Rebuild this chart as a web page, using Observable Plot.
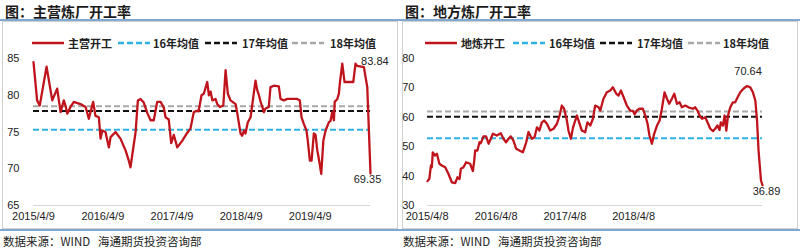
<!DOCTYPE html>
<html><head><meta charset="utf-8">
<script src="https://cdn.jsdelivr.net/npm/d3@7"></script>
<script src="https://cdn.jsdelivr.net/npm/@observablehq/plot@0.6"></script>
<style>
body{margin:0;background:#fff;font-family:"Noto Sans CJK SC","Liberation Sans",sans-serif;}
#root{position:relative;width:800px;height:248px;overflow:hidden;background:#fff;}
.abs{position:absolute;}
.title{font-size:14px;font-weight:bold;color:#1a1a1a;white-space:nowrap;line-height:16px;}
.rule{height:2px;background:#7fa9d4;}
.box{border:1px solid #d0d0d0;box-sizing:border-box;}
.leg{font-size:11px;font-weight:600;color:#222;white-space:nowrap;line-height:12px;}
.src{font-size:11.5px;color:#222;white-space:nowrap;line-height:14px;}
</style></head><body><div id="root"></div>
<script>
// ---------- data ----------
const leftTitle = "图：主营炼厂开工率";
const rightTitle = "图：地方炼厂开工率";
const sourceText = "数据来源：WIND\u00a0\u00a0\u00a0海通期货投资咨询部";
const avgNames = ["16年均值", "17年均值", "18年均值"];
const leftSeriesName = "主营开工";
const rightSeriesName = "地炼开工";

const leftDates = ["2015-04-09","2015-04-28","2015-05-12","2015-06-17","2015-07-17","2015-08-12","2015-08-21","2015-08-30","2015-09-16","2015-09-25",
"2015-10-04","2015-10-21","2015-11-08","2015-12-13","2016-01-09","2016-01-26","2016-02-04","2016-02-18","2016-03-01","2016-03-19",
"2016-03-28","2016-04-06","2016-04-23","2016-05-11","2016-05-20","2016-06-15","2016-07-11","2016-08-07","2016-08-24","2016-09-02",
"2016-09-29","2016-10-11","2016-10-25","2016-11-11","2016-12-01","2016-12-17","2017-01-03","2017-01-21","2017-02-08","2017-02-25",
"2017-03-06","2017-03-23","2017-04-05","2017-04-19","2017-05-07","2017-06-02","2017-06-29","2017-07-16","2017-08-02","2017-08-20",
"2017-08-27","2017-09-12","2017-09-24","2017-10-12","2017-10-21","2017-10-30","2017-11-08","2017-11-25","2017-12-04","2017-12-18",
"2018-01-05","2018-01-17","2018-01-29","2018-02-12","2018-03-11","2018-03-20","2018-04-06","2018-04-15","2018-04-24","2018-05-02",
"2018-05-14","2018-05-29","2018-06-12","2018-06-24","2018-07-02","2018-07-12","2018-07-21","2018-07-30","2018-08-07","2018-08-16",
"2018-09-02","2018-09-11","2018-09-29","2018-10-25","2018-11-03","2018-11-21","2018-12-09","2019-01-30","2019-02-13","2019-02-22",
"2019-03-06","2019-03-20","2019-03-27","2019-04-07","2019-04-16","2019-04-28","2019-05-07","2019-05-16","2019-05-24","2019-06-06",
"2019-06-17","2019-06-29","2019-07-16","2019-07-25","2019-08-03","2019-08-12","2019-08-16","2019-08-30","2019-09-07","2019-09-12",
"2019-09-25","2019-10-07","2019-11-22","2019-12-04","2019-12-13","2020-01-17","2020-02-04","2020-02-21"];
const leftValues = [84.5,79.3,78.6,83.9,79.3,80.9,79.3,77.7,79.3,78.6,
77.5,78.4,79.1,78.8,78.4,76.8,77.7,79.1,77.2,77.0,
74.1,75.2,75.0,72.9,74.3,75.0,74.1,72.5,71.1,70.2,
75.0,79.3,79.5,79.0,77.5,76.6,76.6,79.1,79.1,78.3,
77.0,76.7,73.5,74.6,72.9,73.8,74.9,75.5,77.7,77.9,
77.8,80.0,80.2,81.8,80.0,80.5,79.3,79.5,78.8,78.4,
78.6,83.4,80.2,79.3,78.8,77.5,74.8,74.5,75.2,74.8,
76.3,77.0,79.7,82.0,80.8,80.0,79.1,78.4,77.7,78.2,
78.4,81.1,81.3,81.2,79.5,79.3,79.5,79.5,79.3,77.0,
76.1,75.2,73.8,71.1,71.1,74.8,74.6,72.5,71.4,69.3,
73.8,75.2,76.3,76.5,77.7,76.6,79.1,79.5,80.2,81.6,
84.3,81.8,81.8,84.3,84.0,83.84,81.1,69.35];
const leftAverages = [75.3, 77.85, 78.5];
const leftYTicks = [65, 70, 75, 80, 85];
const leftXTicks = ["2015/4/9","2016/4/9","2017/4/9","2018/4/9","2019/4/9"];
const leftNotes = [83.84, 69.35];

const rightDates = ["2015-04-10","2015-04-20","2015-04-28","2015-05-03","2015-05-08","2015-05-20","2015-05-30","2015-06-12","2015-06-25","2015-07-13",
"2015-07-30","2015-08-17","2015-09-04","2015-09-16","2015-09-27","2015-10-04","2015-10-18","2015-11-01","2015-11-22","2015-12-07",
"2015-12-14","2015-12-19","2015-12-31","2016-01-11","2016-01-18","2016-02-01","2016-02-15","2016-02-28","2016-03-11","2016-03-22",
"2016-04-12","2016-05-03","2016-05-17","2016-05-31","2016-06-13","2016-06-25","2016-07-09","2016-07-24","2016-08-10","2016-08-28",
"2016-09-15","2016-09-27","2016-10-15","2016-10-29","2016-11-11","2016-11-24","2016-12-07","2016-12-19","2017-01-03","2017-01-20",
"2017-02-07","2017-02-25","2017-03-11","2017-03-23","2017-04-04","2017-04-19","2017-04-27","2017-05-10","2017-05-21","2017-06-02",
"2017-06-11","2017-06-23","2017-07-07","2017-07-25","2017-08-06","2017-08-21","2017-09-04","2017-09-16","2017-10-04","2017-10-13",
"2017-10-30","2017-11-17","2017-12-05","2017-12-19","2018-01-06","2018-01-18","2018-01-31","2018-02-17","2018-03-03","2018-03-21",
"2018-04-04","2018-04-13","2018-04-25","2018-05-09","2018-05-27","2018-06-09","2018-06-21","2018-07-01","2018-07-14","2018-07-26",
"2018-08-10","2018-08-24","2018-09-05","2018-09-19","2018-10-02","2018-10-14","2018-10-28","2018-11-10","2018-11-24","2018-12-08",
"2018-12-20","2019-01-07","2019-01-24","2019-02-17","2019-03-01","2019-03-13","2019-03-24","2019-04-06","2019-04-23","2019-05-05",
"2019-05-20","2019-06-03","2019-06-15","2019-06-27","2019-07-08","2019-07-15","2019-07-26","2019-08-04","2019-08-13","2019-08-22",
"2019-09-03","2019-09-17","2019-09-29","2019-10-12","2019-10-26","2019-11-13","2019-12-01","2019-12-18","2020-01-01","2020-01-14",
"2020-01-23","2020-01-31","2020-02-13","2020-02-21"];
const rightValues = [38.3,39.1,43.6,43.0,48.1,47.0,47.6,44.2,43.6,43.0,
40.8,37.9,37.6,39.6,39.0,42.5,43.0,44.7,44.2,41.7,
45.3,48.7,48.7,51.5,51.2,53.5,53.5,51.0,52.7,54.4,
53.8,54.6,52.7,51.5,52.7,53.5,52.1,49.3,48.7,48.1,
51.5,55.0,52.7,53.2,56.6,55.5,58.3,58.9,57.8,55.5,
56.1,57.8,60.6,64.0,62.9,58.9,55.5,52.7,56.4,58.9,
60.6,58.3,55.5,54.9,58.3,57.2,59.5,64.0,63.4,62.3,
66.3,68.5,69.1,70.2,68.0,67.4,69.1,66.3,64.0,62.3,
62.2,61.0,62.3,62.9,62.9,60.6,57.8,53.8,51.0,54.4,
57.2,58.9,62.9,68.5,66.3,64.6,66.3,68.0,64.6,65.1,
63.4,64.0,63.4,62.9,63.4,62.3,60.6,59.5,60.0,58.3,
56.1,55.3,56.1,57.2,55.7,58.3,57.2,60.6,55.5,60.6,
63.4,65.1,65.1,66.8,68.5,69.8,70.64,70.2,68.5,65.7,
58.9,48.7,38.5,36.89];
const rightAverages = [52.9, 60.2, 62.0];
const rightYTicks = [30, 40, 50, 60, 70, 80];
const rightXTicks = ["2015/4/8","2016/4/8","2017/4/8","2018/4/8"];
const rightNotes = [70.64, 36.89];

// ---------- styles ----------
const RED = "#c0141c";
const avgStyles = [
  {stroke: "#2eb2e4", dash: "6,3"},
  {stroke: "#111111", dash: "6,3"},
  {stroke: "#a8a8a8", dash: "6,3"}
];

const parseISO = d3.utcParse("%Y-%m-%d");
const parseTick = d3.utcParse("%Y/%m/%d");
const fmtTick = d3.utcFormat("%Y/%-m/%-d");
const root = document.getElementById("root");

function el(tag, cls, style, text) {
  const e = document.createElement(tag);
  if (cls) e.className = cls;
  Object.assign(e.style, style);
  if (text != null) e.textContent = text;
  root.appendChild(e);
  return e;
}

function swatch(x, y, w, stroke, dash, sw) {
  const ns = "http://www.w3.org/2000/svg";
  const s = document.createElementNS(ns, "svg");
  s.setAttribute("width", w); s.setAttribute("height", 6);
  s.style.position = "absolute"; s.style.left = x + "px"; s.style.top = (y - 3) + "px";
  const l = document.createElementNS(ns, "line");
  l.setAttribute("x1", 0); l.setAttribute("x2", w); l.setAttribute("y1", 3); l.setAttribute("y2", 3);
  l.setAttribute("stroke", stroke); l.setAttribute("stroke-width", sw);
  if (dash) l.setAttribute("stroke-dasharray", dash);
  s.appendChild(l);
  root.appendChild(s);
}

function panel(o) {
  const X = o.offset;
  el("div", "abs title", {left: (X + 5) + "px", top: "3px"}, o.title);
  el("div", "abs rule", {left: X + "px", top: "19px", width: "400px"});
  el("div", "abs box", {left: (X + 2) + "px", top: "21px", width: "396px", height: "208px"});
  el("div", "abs rule", {left: X + "px", top: "229px", width: "400px"});
  el("div", "abs src", {left: (X + 3) + "px", top: "234px"}, sourceText);

  // legend
  const names = [o.seriesName, ...avgNames];
  const styles = [{stroke: RED, dash: null}, ...avgStyles];
  names.forEach((n, i) => {
    const sx = X + o.legSw[i];
    swatch(sx, 43, o.legSwW, styles[i].stroke, styles[i].dash, 2.5);
    el("div", "abs leg", {left: (X + o.legTx[i]) + "px", top: "37px"}, n);
  });

  const data = o.dates.map((d, i) => ({date: parseISO(d), value: o.values[i]}));
  const noteA = data.find(d => d.value === o.notes[0]);
  const noteB = data.find(d => d.value === o.notes[1]);

  const chart = Plot.plot({
    width: 400, height: 176,
    marginLeft: o.mL, marginRight: o.mR, marginTop: 8, marginBottom: 21,
    x: {type: "utc", domain: [data[0].date, data[data.length - 1].date],
        ticks: o.xTicks.map(parseTick), tickFormat: fmtTick, tickSize: 0, tickPadding: 7, label: null},
    y: {domain: o.yDomain, ticks: o.yTicks, tickSize: 0, tickPadding: o.yPad, label: null},
    style: {fontSize: "11px", fontFamily: "'Liberation Sans', Arial, sans-serif", color: "#222", background: "transparent", overflow: "visible"},
    marks: [
      Plot.ruleY([o.yDomain[0]], {stroke: "#d6d6d6", strokeWidth: 1}),
      ...o.averages.map((a, i) => Plot.ruleY([a], {stroke: avgStyles[i].stroke, strokeWidth: 2, strokeDasharray: avgStyles[i].dash})),
      Plot.line(data, {x: "date", y: "value", stroke: RED, strokeWidth: 2.3}),
      Plot.text([noteA], {x: "date", y: "value", text: d => d.value.toFixed(2), dx: o.noteA[0], dy: o.noteA[1], fontSize: 11, fill: "#222"}),
      Plot.text([noteB], {x: "date", y: "value", text: d => d.value.toFixed(2), dx: o.noteB[0], dy: o.noteB[1], fontSize: 11, fill: "#222"})
    ]
  });
  chart.style.position = "absolute";
  chart.style.left = X + "px";
  chart.style.top = "50px";
  root.appendChild(chart);
}

panel({offset: 0, title: leftTitle, seriesName: leftSeriesName, dates: leftDates, values: leftValues,
  averages: leftAverages, yDomain: [65, 85], yTicks: leftYTicks, xTicks: leftXTicks, notes: leftNotes,
  mL: 33, mR: 30, yPad: 14, noteA: [11, -6], noteB: [-3, 6],
  legSw: [32, 118, 205, 292], legTx: [68, 153, 242, 330], legSwW: 32});
panel({offset: 400, title: rightTitle, seriesName: rightSeriesName, dates: rightDates, values: rightValues,
  averages: rightAverages, yDomain: [30, 80], yTicks: rightYTicks, xTicks: rightXTicks, notes: rightNotes,
  mL: 27, mR: 38, yPad: 13, noteA: [1, -15], noteB: [4, 6],
  legSw: [25, 113, 200, 288], legTx: [61, 149, 237, 323], legSwW: 32});
</script>
</body></html>
